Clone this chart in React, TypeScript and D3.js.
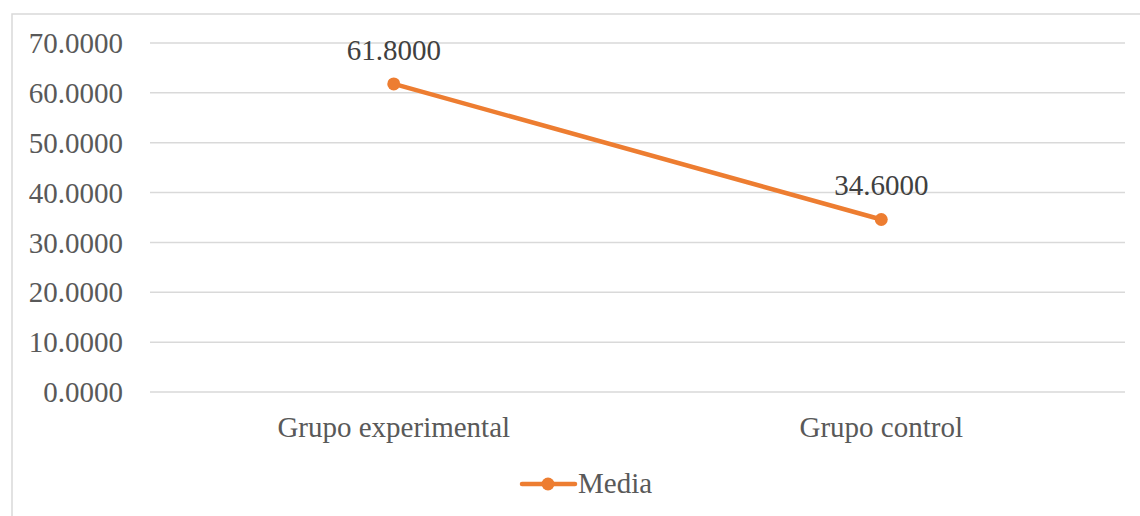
import React from "react";
import * as d3 from "d3";

const categories = ["Grupo experimental", "Grupo control"];
const mediaValues = [61.8, 34.6];
const yTicks = [0, 10, 20, 30, 40, 50, 60, 70];
const seriesName = "Media";

const W = 1140;
const H = 516;
const plot = { left: 150, right: 1125, top: 43, bottom: 392 };
const FONT = "Liberation Serif, Times New Roman, Times, serif";
const TEXT = "#595959";
const GRID = "#d9d9d9";
const ORANGE = "#ED7D31";

const textStyle: React.CSSProperties = { fontFamily: FONT, fontSize: 29 };

export default function App() {
  const x = d3
    .scaleBand<string>()
    .domain(categories)
    .range([plot.left, plot.right]);
  const y = d3.scaleLinear().domain([0, 70]).range([plot.bottom, plot.top]);
  const cx = (c: string) => (x(c) ?? 0) + x.bandwidth() / 2;

  const line = d3
    .line<number>()
    .x((_, i) => cx(categories[i]))
    .y((d) => y(d));

  return (
    <svg
      width={W}
      height={H}
      style={{ position: "absolute", left: 0, top: 0, background: "#fff" }}
    >
      <rect x={12} y={14} width={W} height={H} fill="#fff" stroke={GRID} strokeWidth={1.5} />
      {yTicks.map((t) => (
        <g key={t}>
          <line
            x1={plot.left}
            x2={plot.right}
            y1={y(t)}
            y2={y(t)}
            stroke={GRID}
            strokeWidth={1.5}
          />
          <text x={123} y={y(t)} dy="0.35em" textAnchor="end" style={textStyle} fill={TEXT}>
            {t.toFixed(4)}
          </text>
        </g>
      ))}
      {categories.map((c) => (
        <text key={c} x={cx(c)} y={437} textAnchor="middle" style={textStyle} fill={TEXT}>
          {c}
        </text>
      ))}
      <path
        d={line(mediaValues) ?? ""}
        fill="none"
        stroke={ORANGE}
        strokeWidth={4.5}
        strokeLinecap="round"
      />
      {mediaValues.map((v, i) => (
        <g key={i}>
          <circle cx={cx(categories[i])} cy={y(v)} r={6.5} fill={ORANGE} />
          <text
            x={cx(categories[i])}
            y={y(v) - 24}
            textAnchor="middle"
            style={textStyle}
            fill="#404040"
          >
            {v.toFixed(4)}
          </text>
        </g>
      ))}
      <g>
        <line x1={522} x2={575} y1={484} y2={484} stroke={ORANGE} strokeWidth={4.5} strokeLinecap="round" />
        <circle cx={548} cy={484} r={6.5} fill={ORANGE} />
        <text x={578} y={493} style={textStyle} fill={TEXT}>
          {seriesName}
        </text>
      </g>
    </svg>
  );
}
